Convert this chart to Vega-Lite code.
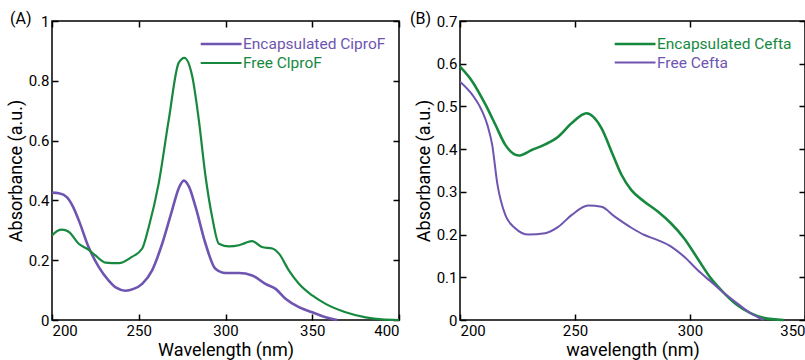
{
  "$schema": "https://vega.github.io/schema/vega-lite/v6.json",
  "background": "white",
  "padding": {"left": 6, "top": 10, "right": 0, "bottom": 1},
  "spacing": 4,
  "config": {
    "font": "Roboto",
    "view": {"stroke": "black", "strokeWidth": 1.5},
    "axis": {"domain": false, "grid": false, "ticks": true, "tickSize": 6, "tickColor": "black", "tickWidth": 1.5, "labelPadding": 3, "labelFont": "Roboto", "labelFontSize": 15, "labelColor": "black", "titleFont": "Roboto", "titleFontSize": 18, "titleFontWeight": "normal", "titleColor": "black", "titlePadding": 3},
    "legend": {"orient": "top-right", "offset": 13, "title": null, "labelFont": "Roboto", "labelFontSize": 15.5, "symbolType": "M-3.8,0H1", "symbolSize": 289, "symbolFillColor": "transparent", "rowPadding": 0, "labelOffset": 0, "padding": 0},
    "title": {"font": "Roboto", "fontSize": 16, "fontWeight": "normal", "color": "black"}
  },
  "datasets": {
    "A": [
      {"wl": 200, "abs": 0.426, "series": "Encapsulated CiproF"},
      {"wl": 204, "abs": 0.424, "series": "Encapsulated CiproF"},
      {"wl": 208.7, "abs": 0.41, "series": "Encapsulated CiproF"},
      {"wl": 212, "abs": 0.38, "series": "Encapsulated CiproF"},
      {"wl": 215.4, "abs": 0.334, "series": "Encapsulated CiproF"},
      {"wl": 221, "abs": 0.245, "series": "Encapsulated CiproF"},
      {"wl": 227, "abs": 0.177, "series": "Encapsulated CiproF"},
      {"wl": 232.7, "abs": 0.132, "series": "Encapsulated CiproF"},
      {"wl": 237, "abs": 0.108, "series": "Encapsulated CiproF"},
      {"wl": 242.3, "abs": 0.098, "series": "Encapsulated CiproF"},
      {"wl": 247, "abs": 0.104, "series": "Encapsulated CiproF"},
      {"wl": 252, "abs": 0.121, "series": "Encapsulated CiproF"},
      {"wl": 257.7, "abs": 0.166, "series": "Encapsulated CiproF"},
      {"wl": 263.5, "abs": 0.255, "series": "Encapsulated CiproF"},
      {"wl": 269.2, "abs": 0.367, "series": "Encapsulated CiproF"},
      {"wl": 273, "abs": 0.44, "series": "Encapsulated CiproF"},
      {"wl": 276, "abs": 0.466, "series": "Encapsulated CiproF"},
      {"wl": 279, "abs": 0.445, "series": "Encapsulated CiproF"},
      {"wl": 282.7, "abs": 0.379, "series": "Encapsulated CiproF"},
      {"wl": 288.5, "abs": 0.255, "series": "Encapsulated CiproF"},
      {"wl": 294.2, "abs": 0.171, "series": "Encapsulated CiproF"},
      {"wl": 300, "abs": 0.157, "series": "Encapsulated CiproF"},
      {"wl": 307.7, "abs": 0.157, "series": "Encapsulated CiproF"},
      {"wl": 315.4, "abs": 0.149, "series": "Encapsulated CiproF"},
      {"wl": 323, "abs": 0.121, "series": "Encapsulated CiproF"},
      {"wl": 328.9, "abs": 0.104, "series": "Encapsulated CiproF"},
      {"wl": 334.6, "abs": 0.071, "series": "Encapsulated CiproF"},
      {"wl": 342.3, "abs": 0.043, "series": "Encapsulated CiproF"},
      {"wl": 350, "abs": 0.026, "series": "Encapsulated CiproF"},
      {"wl": 357.7, "abs": 0.009, "series": "Encapsulated CiproF"},
      {"wl": 364.4, "abs": 0.0, "series": "Encapsulated CiproF"},
      {"wl": 200, "abs": 0.283, "series": "Free ClproF"},
      {"wl": 203, "abs": 0.298, "series": "Free ClproF"},
      {"wl": 205.8, "abs": 0.302, "series": "Free ClproF"},
      {"wl": 209.6, "abs": 0.295, "series": "Free ClproF"},
      {"wl": 215.4, "abs": 0.255, "series": "Free ClproF"},
      {"wl": 221, "abs": 0.235, "series": "Free ClproF"},
      {"wl": 225, "abs": 0.216, "series": "Free ClproF"},
      {"wl": 230.8, "abs": 0.192, "series": "Free ClproF"},
      {"wl": 238.5, "abs": 0.19, "series": "Free ClproF"},
      {"wl": 246, "abs": 0.211, "series": "Free ClproF"},
      {"wl": 252, "abs": 0.239, "series": "Free ClproF"},
      {"wl": 255.8, "abs": 0.312, "series": "Free ClproF"},
      {"wl": 261.5, "abs": 0.457, "series": "Free ClproF"},
      {"wl": 267.3, "abs": 0.67, "series": "Free ClproF"},
      {"wl": 273, "abs": 0.86, "series": "Free ClproF"},
      {"wl": 276.3, "abs": 0.877, "series": "Free ClproF"},
      {"wl": 280.8, "abs": 0.816, "series": "Free ClproF"},
      {"wl": 284.6, "abs": 0.67, "series": "Free ClproF"},
      {"wl": 288.5, "abs": 0.48, "series": "Free ClproF"},
      {"wl": 292.3, "abs": 0.345, "series": "Free ClproF"},
      {"wl": 296.2, "abs": 0.255, "series": "Free ClproF"},
      {"wl": 302, "abs": 0.246, "series": "Free ClproF"},
      {"wl": 307.7, "abs": 0.25, "series": "Free ClproF"},
      {"wl": 311.5, "abs": 0.258, "series": "Free ClproF"},
      {"wl": 315.4, "abs": 0.264, "series": "Free ClproF"},
      {"wl": 321, "abs": 0.244, "series": "Free ClproF"},
      {"wl": 327, "abs": 0.239, "series": "Free ClproF"},
      {"wl": 330.8, "abs": 0.222, "series": "Free ClproF"},
      {"wl": 336.5, "abs": 0.166, "series": "Free ClproF"},
      {"wl": 342.3, "abs": 0.121, "series": "Free ClproF"},
      {"wl": 350, "abs": 0.082, "series": "Free ClproF"},
      {"wl": 357.7, "abs": 0.054, "series": "Free ClproF"},
      {"wl": 369.2, "abs": 0.026, "series": "Free ClproF"},
      {"wl": 380.8, "abs": 0.009, "series": "Free ClproF"},
      {"wl": 390, "abs": 0.002, "series": "Free ClproF"},
      {"wl": 400, "abs": 0.0, "series": "Free ClproF"}
    ],
    "B": [
      {"wl": 200, "abs": 0.593, "series": "Encapsulated Cefta"},
      {"wl": 205.4, "abs": 0.558, "series": "Encapsulated Cefta"},
      {"wl": 211.1, "abs": 0.504, "series": "Encapsulated Cefta"},
      {"wl": 215.4, "abs": 0.457, "series": "Encapsulated Cefta"},
      {"wl": 219.7, "abs": 0.41, "series": "Encapsulated Cefta"},
      {"wl": 225.5, "abs": 0.385, "series": "Encapsulated Cefta"},
      {"wl": 231.2, "abs": 0.398, "series": "Encapsulated Cefta"},
      {"wl": 237, "abs": 0.411, "series": "Encapsulated Cefta"},
      {"wl": 242.7, "abs": 0.429, "series": "Encapsulated Cefta"},
      {"wl": 248.6, "abs": 0.461, "series": "Encapsulated Cefta"},
      {"wl": 255, "abs": 0.484, "series": "Encapsulated Cefta"},
      {"wl": 261.5, "abs": 0.449, "series": "Encapsulated Cefta"},
      {"wl": 265.9, "abs": 0.394, "series": "Encapsulated Cefta"},
      {"wl": 270.2, "abs": 0.34, "series": "Encapsulated Cefta"},
      {"wl": 274.5, "abs": 0.304, "series": "Encapsulated Cefta"},
      {"wl": 280.2, "abs": 0.277, "series": "Encapsulated Cefta"},
      {"wl": 286, "abs": 0.254, "series": "Encapsulated Cefta"},
      {"wl": 291.8, "abs": 0.226, "series": "Encapsulated Cefta"},
      {"wl": 297.5, "abs": 0.191, "series": "Encapsulated Cefta"},
      {"wl": 303.3, "abs": 0.144, "series": "Encapsulated Cefta"},
      {"wl": 309, "abs": 0.098, "series": "Encapsulated Cefta"},
      {"wl": 314.8, "abs": 0.063, "series": "Encapsulated Cefta"},
      {"wl": 320.5, "abs": 0.035, "series": "Encapsulated Cefta"},
      {"wl": 326.3, "abs": 0.016, "series": "Encapsulated Cefta"},
      {"wl": 332, "abs": 0.005, "series": "Encapsulated Cefta"},
      {"wl": 340.7, "abs": 0.0, "series": "Encapsulated Cefta"},
      {"wl": 200, "abs": 0.558, "series": "Free Cefta"},
      {"wl": 205.4, "abs": 0.527, "series": "Free Cefta"},
      {"wl": 209.7, "abs": 0.488, "series": "Free Cefta"},
      {"wl": 212, "abs": 0.455, "series": "Free Cefta"},
      {"wl": 214, "abs": 0.41, "series": "Free Cefta"},
      {"wl": 216.2, "abs": 0.32, "series": "Free Cefta"},
      {"wl": 219.7, "abs": 0.246, "series": "Free Cefta"},
      {"wl": 224, "abs": 0.215, "series": "Free Cefta"},
      {"wl": 229.8, "abs": 0.2, "series": "Free Cefta"},
      {"wl": 237, "abs": 0.203, "series": "Free Cefta"},
      {"wl": 242.7, "abs": 0.218, "series": "Free Cefta"},
      {"wl": 248.6, "abs": 0.246, "series": "Free Cefta"},
      {"wl": 255.7, "abs": 0.268, "series": "Free Cefta"},
      {"wl": 261.5, "abs": 0.265, "series": "Free Cefta"},
      {"wl": 267.3, "abs": 0.242, "series": "Free Cefta"},
      {"wl": 274.5, "abs": 0.216, "series": "Free Cefta"},
      {"wl": 280.2, "abs": 0.199, "series": "Free Cefta"},
      {"wl": 286, "abs": 0.187, "series": "Free Cefta"},
      {"wl": 291.8, "abs": 0.172, "series": "Free Cefta"},
      {"wl": 297.5, "abs": 0.148, "series": "Free Cefta"},
      {"wl": 303.3, "abs": 0.117, "series": "Free Cefta"},
      {"wl": 309, "abs": 0.09, "series": "Free Cefta"},
      {"wl": 314.8, "abs": 0.063, "series": "Free Cefta"},
      {"wl": 320.5, "abs": 0.039, "series": "Free Cefta"},
      {"wl": 326.3, "abs": 0.016, "series": "Free Cefta"},
      {"wl": 332, "abs": 0.0, "series": "Free Cefta"}
    ]
  },
  "resolve": {"scale": {"color": "independent", "strokeWidth": "independent"}, "legend": {"color": "independent", "strokeWidth": "independent"}},
  "hconcat": [
    {
      "width": 347,
      "height": 299,
      "title": {"text": "(A)", "anchor": "start", "frame": "group", "offset": -13, "dx": -42},
      "data": {"name": "A"},
      "layer": [
        {
          "mark": {"type": "line", "interpolate": "monotone"},
          "encoding": {
            "x": {"field": "wl", "type": "quantitative", "scale": {"domain": [200, 400], "nice": false}, "axis": {"title": "Wavelength (nm)", "values": [200, 250, 300, 350, 400], "labelFlush": true, "offset": -6}},
            "y": {"field": "abs", "type": "quantitative", "scale": {"domain": [0, 1], "nice": false}, "axis": {"title": "Absorbance (a.u.)", "values": [0, 0.2, 0.4, 0.6, 0.8, 1], "format": "~g", "offset": -6}},
            "color": {"field": "series", "type": "nominal", "scale": {"domain": ["Encapsulated CiproF", "Free ClproF"], "range": ["#6e55b0", "#17893f"]}, "legend": {"encode": {"labels": {"update": {"fill": {"signal": "datum.index == 0 ? '#6e55b0' : '#17893f'"}}}}}},
            "strokeWidth": {"field": "series", "type": "nominal", "scale": {"domain": ["Encapsulated CiproF", "Free ClproF"], "range": [2.6, 2.2]}}
          }
        },
        {
          "mark": {"type": "line", "opacity": 0},
          "encoding": {
            "x": {"field": "wl", "type": "quantitative", "axis": {"orient": "top", "labels": false, "title": null, "offset": -6, "values": [200, 250, 300, 350, 400]}},
            "y": {"field": "abs", "type": "quantitative", "axis": {"orient": "right", "labels": false, "title": null, "offset": -6, "values": [0, 0.2, 0.4, 0.6, 0.8, 1]}},
            "detail": {"field": "series"}
          }
        }
      ],
      "resolve": {"axis": {"x": "independent", "y": "independent"}}
    },
    {
      "width": 345,
      "height": 299,
      "title": {"text": "(B)", "anchor": "start", "frame": "group", "offset": -13, "dx": -50},
      "data": {"name": "B"},
      "layer": [
        {
          "mark": {"type": "line", "interpolate": "monotone"},
          "encoding": {
            "x": {"field": "wl", "type": "quantitative", "scale": {"domain": [200, 350], "nice": false}, "axis": {"title": "wavelength (nm)", "values": [200, 250, 300, 350], "labelFlush": true, "offset": -6}},
            "y": {"field": "abs", "type": "quantitative", "scale": {"domain": [0, 0.7], "nice": false}, "axis": {"title": "Absorbance (a.u.)", "values": [0, 0.1, 0.2, 0.3, 0.4, 0.5, 0.6, 0.7], "format": "~g", "offset": -6}},
            "color": {"field": "series", "type": "nominal", "scale": {"domain": ["Encapsulated Cefta", "Free Cefta"], "range": ["#17893f", "#6e55b0"]}, "legend": {"encode": {"labels": {"update": {"fill": {"signal": "datum.index == 0 ? '#17893f' : '#6e55b0'"}}}}}},
            "strokeWidth": {"field": "series", "type": "nominal", "scale": {"domain": ["Encapsulated Cefta", "Free Cefta"], "range": [2.6, 2.0]}}
          }
        },
        {
          "mark": {"type": "line", "opacity": 0},
          "encoding": {
            "x": {"field": "wl", "type": "quantitative", "axis": {"orient": "top", "labels": false, "title": null, "offset": -6, "values": [200, 250, 300, 350]}},
            "y": {"field": "abs", "type": "quantitative", "axis": {"orient": "right", "labels": false, "title": null, "offset": -6, "values": [0, 0.1, 0.2, 0.3, 0.4, 0.5, 0.6, 0.7]}},
            "detail": {"field": "series"}
          }
        }
      ],
      "resolve": {"axis": {"x": "independent", "y": "independent"}}
    }
  ]
}
